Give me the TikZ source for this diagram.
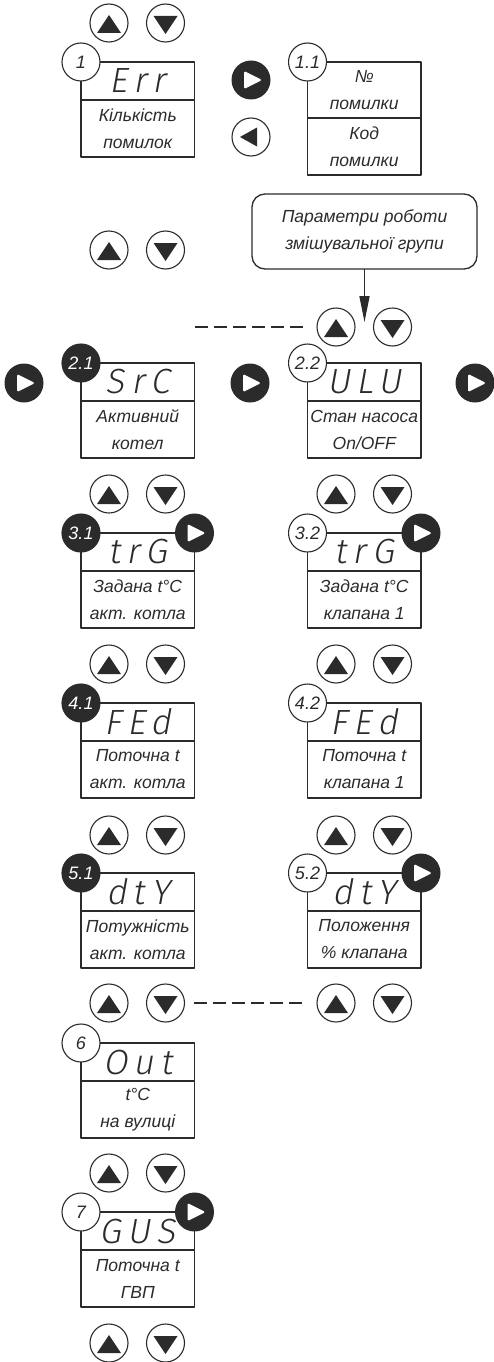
\documentclass[tikz,border=0pt]{standalone}
\usepackage{fontspec}
\setmainfont{Liberation Sans}
\newfontfamily\segfont{Fira Sans Light}[FakeSlant=0.18,LetterSpace=18]
\usetikzlibrary{arrows.meta}
\definecolor{ink}{HTML}{2B2B2B}

\begin{document}
\begin{tikzpicture}[x=1pt,y=-1pt,line join=round,
  every node/.style={inner sep=0pt,outer sep=0pt,text=ink},
  txt/.style={font=\itshape\fontsize{17.5}{27}\selectfont,align=center},
  disp/.style={draw=ink,line width=1.4pt,minimum width=113.5pt,minimum height=38pt,anchor=north west,font=\segfont\fontsize{35}{35}\selectfont},
  desc/.style={txt,draw=ink,line width=1.4pt,minimum width=113.5pt,minimum height=57pt,anchor=north},
  tag/.style={circle,draw=ink,line width=1.1pt,minimum size=38pt,font=\itshape\fontsize{18}{18}\selectfont},
  btn/.style={circle,draw=ink,fill=white,line width=1.1pt,minimum size=38pt},
  upbtn/.style={btn,path picture={\fill[ink] ([shift={(-12pt,-10pt)}]path picture bounding box.center) -- ++(24pt,0pt) -- ++(-12pt,18pt) -- cycle;}},
  downbtn/.style={btn,path picture={\fill[ink] ([shift={(-12pt,7pt)}]path picture bounding box.center) -- ++(24pt,0pt) -- ++(-12pt,-18pt) -- cycle;}},
  okbtn/.style={circle,fill=ink,minimum size=39pt,path picture={\fill[white,rounded corners=1.5pt] ([shift={(-7pt,9pt)}]path picture bounding box.center) -- ++(0pt,-18pt) -- ++(18pt,9pt) -- cycle;}},
  backbtn/.style={btn,path picture={\fill[ink] ([shift={(-11pt,0pt)}]path picture bounding box.center) -- ++(17pt,9.5pt) -- ++(0pt,-19pt) -- cycle;}},
  dashline/.style={draw=ink,line width=1.3pt,dash pattern=on 13pt off 6pt}
]
\useasboundingbox (0,0) rectangle (494,1362);

\foreach \n/\x/\y in {1/109/23,2/109/250,2r/336/327,3/109/494,3r/336/494,4/109/664,4r/336/664,5/109/835,5r/336/835,6/109/1003,6r/336/1003,7/109/1173,8/109/1343}{
  \node[upbtn] (u\n) at (\x,\y) {};
  \node[downbtn] (d\n) at (\x+56.5,\y) {};
}

\foreach \n/\x/\y/\code/\lines/\num/\tf/\tc in {
  1/81/62/Err/{Кількість\\помилок}/1/white/ink,
  21/81/363/SrC/{Активний\\котел}/2.1/ink/white,
  22/307.5/363/ULU/{Стан насоса\\On/OFF}/2.2/white/ink,
  31/81/533/trG/{Задана t°C\\акт. котла}/3.1/ink/white,
  32/307.5/533/trG/{Задана t°C\\клапана 1}/3.2/white/ink,
  41/81/703/FEd/{Поточна t\\акт. котла}/4.1/ink/white,
  42/307.5/703/FEd/{Поточна t\\клапана 1}/4.2/white/ink,
  51/81/873/dtY/{Потужність\\акт. котла}/5.1/ink/white,
  52/307.5/873/dtY/{Положення\\\% клапана}/5.2/white/ink,
  6/81/1043/Out/{t°C\\на вулиці}/6/white/ink,
  7/81/1212/GUS/{Поточна t\\ГВП}/7/white/ink}{
  \node[disp] (disp\n) at (\x,\y) {\code};
  \node[desc] (desc\n) at (disp\n.south) {\lines};
  \node[tag,fill=\tf,text=\tc] (tag\n) at (disp\n.north west) {\num};
}

\node[disp,txt,minimum height=56pt] (disp11) at (307.5,62) {№\\помилки};
\node[desc] (desc11) at (disp11.south) {Код\\помилки};
\node[tag,fill=white] (tag11) at (disp11.north west) {1.1};

\node[okbtn] (ok1) at (251,80) {};
\node[backbtn] (back1) at (251,137) {};
\node[okbtn] (ok2a) at (24,383) {};
\node[okbtn] (ok2b) at (250,383) {};
\node[okbtn] (ok2c) at (475,383) {};
\node[okbtn] (ok31) at (disp31.north east) {};
\node[okbtn] (ok32) at (disp32.north east) {};
\node[okbtn] (ok52) at (disp52.north east) {};
\node[okbtn] (ok7) at (disp7.north east) {};

\node[txt,draw=ink,line width=1.3pt,rounded corners=13pt,minimum width=225pt,minimum height=75pt] (group) at (364.5,231.5) {Параметри роботи\\змішувальної групи};
\coordinate (tip) at (364.5,322);
\draw[ink,line width=1.6pt,-{Triangle[length=26pt,width=10pt]}] (group) -- (tip);

\coordinate (dashA) at (195,327);
\draw[dashline] (dashA) -- ([xshift=-10pt]u2r.west);
\draw[dashline] ([xshift=9pt]d6.east) -- ([xshift=-10pt]u6r.west);
\end{tikzpicture}
\end{document}
